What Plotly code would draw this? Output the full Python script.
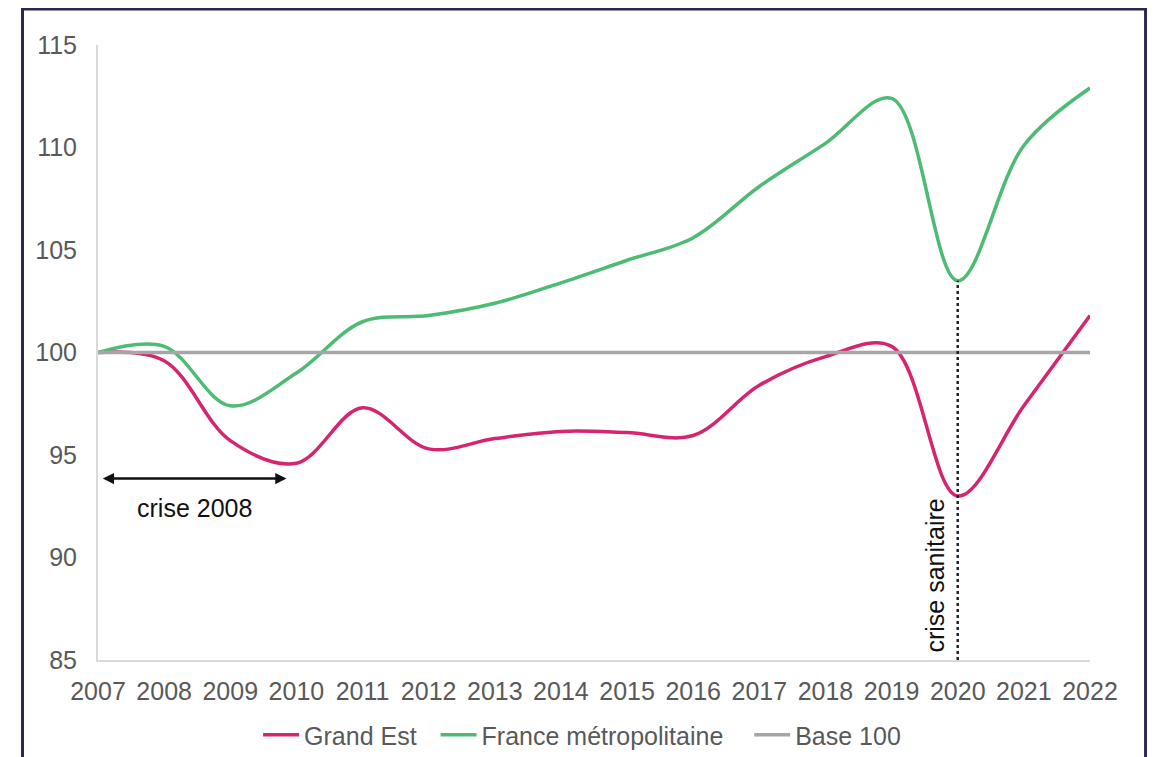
import plotly.graph_objects as go

years = list(range(2007, 2023))
grand_est = [100, 99.6, 95.7, 94.6, 97.3, 95.3, 95.8, 96.15, 96.1, 95.95, 98.4, 99.8, 100.3, 93.0, 97.4, 101.8]
france_metro = [100, 100.3, 97.4, 99.0, 101.5, 101.8, 102.4, 103.4, 104.5, 105.6, 108.1, 110.2, 112.4, 103.5, 110.1, 112.9]
base_100 = [100] * len(years)

y_ticks = [85, 90, 95, 100, 105, 110, 115]

PINK = "#d6246e"
GREEN = "#4dbb73"
GREY = "#a6a6a6"
FONT = "Liberation Sans, Arial, sans-serif"
FS = 25

W, H = 1147, 749  # page body has 8px default margin

fig = go.Figure()
fig.add_trace(go.Scatter(x=years, y=grand_est, name="Grand Est\u00a0\u00a0", mode="lines",
                         line=dict(color=PINK, width=3.5, shape="spline", smoothing=1.0)))
fig.add_trace(go.Scatter(x=years, y=france_metro, name="France métropolitaine\u00a0\u00a0\u00a0", mode="lines",
                         line=dict(color=GREEN, width=3.5, shape="spline", smoothing=1.0)))
fig.add_trace(go.Scatter(x=years, y=base_100, name="Base 100", mode="lines",
                         line=dict(color=GREY, width=3.5)))

# dotted vertical line at 2020 (crise sanitaire)
covid_year = 2020
fig.add_shape(type="line", xref="x", yref="y", x0=covid_year, x1=covid_year,
              y0=85, y1=france_metro[years.index(covid_year)],
              line=dict(color="#222222", width=2.5, dash="dot"))

# border
fig.add_shape(type="rect", xref="paper", yref="paper", x0=-0.0761, x1=1.056, y0=-0.25, y1=1.0585,
              line=dict(color="#2a2850", width=3), fillcolor="rgba(0,0,0,0)", layer="below")

# double-headed arrow for crise 2008
fig.add_annotation(x=2009.85, y=93.85, ax=2007.05, ay=93.85, xref="x", yref="y", axref="x", ayref="y",
                   text="", showarrow=True, arrowhead=2, arrowside="end+start", arrowsize=0.9,
                   arrowwidth=2.5, arrowcolor="#111111")
fig.add_annotation(x=2008.46, y=92.4, xref="x", yref="y", text="crise 2008", showarrow=False,
                   font=dict(family=FONT, size=FS, color="#111111"))
fig.add_annotation(x=2019.65, y=89.1, xref="x", yref="y", text="crise sanitaire", showarrow=False,
                   textangle=-90, font=dict(family=FONT, size=FS, color="#111111"))

fig.update_layout(
    width=W, height=H,
    margin=dict(l=90, r=65, t=37, b=97, autoexpand=False),
    paper_bgcolor="white", plot_bgcolor="white",
    font=dict(family=FONT, size=FS, color="#595959"),
    showlegend=True,
    legend=dict(orientation="h", x=0.488, xanchor="center", yref="container", y=22 / H, yanchor="middle",
                font=dict(family=FONT, size=FS, color="#595959"), itemwidth=36,
                tracegroupgap=0),
)
fig.update_xaxes(range=[2007, 2022], tickmode="array", tickvals=years, ticktext=[str(y) for y in years],
                 showgrid=False, zeroline=False, showline=True, linecolor="#d9d9d9", linewidth=2,
                 ticks="", ticklabelstandoff=8, tickfont=dict(family=FONT, size=FS, color="#595959"))
fig.update_yaxes(range=[85, 115], tickmode="array", tickvals=y_ticks,
                 showgrid=False, zeroline=False, showline=True, linecolor="#d9d9d9", linewidth=2,
                 ticks="", ticklabelstandoff=14, tickfont=dict(family=FONT, size=FS, color="#595959"))

fig.write_html("out.html")
